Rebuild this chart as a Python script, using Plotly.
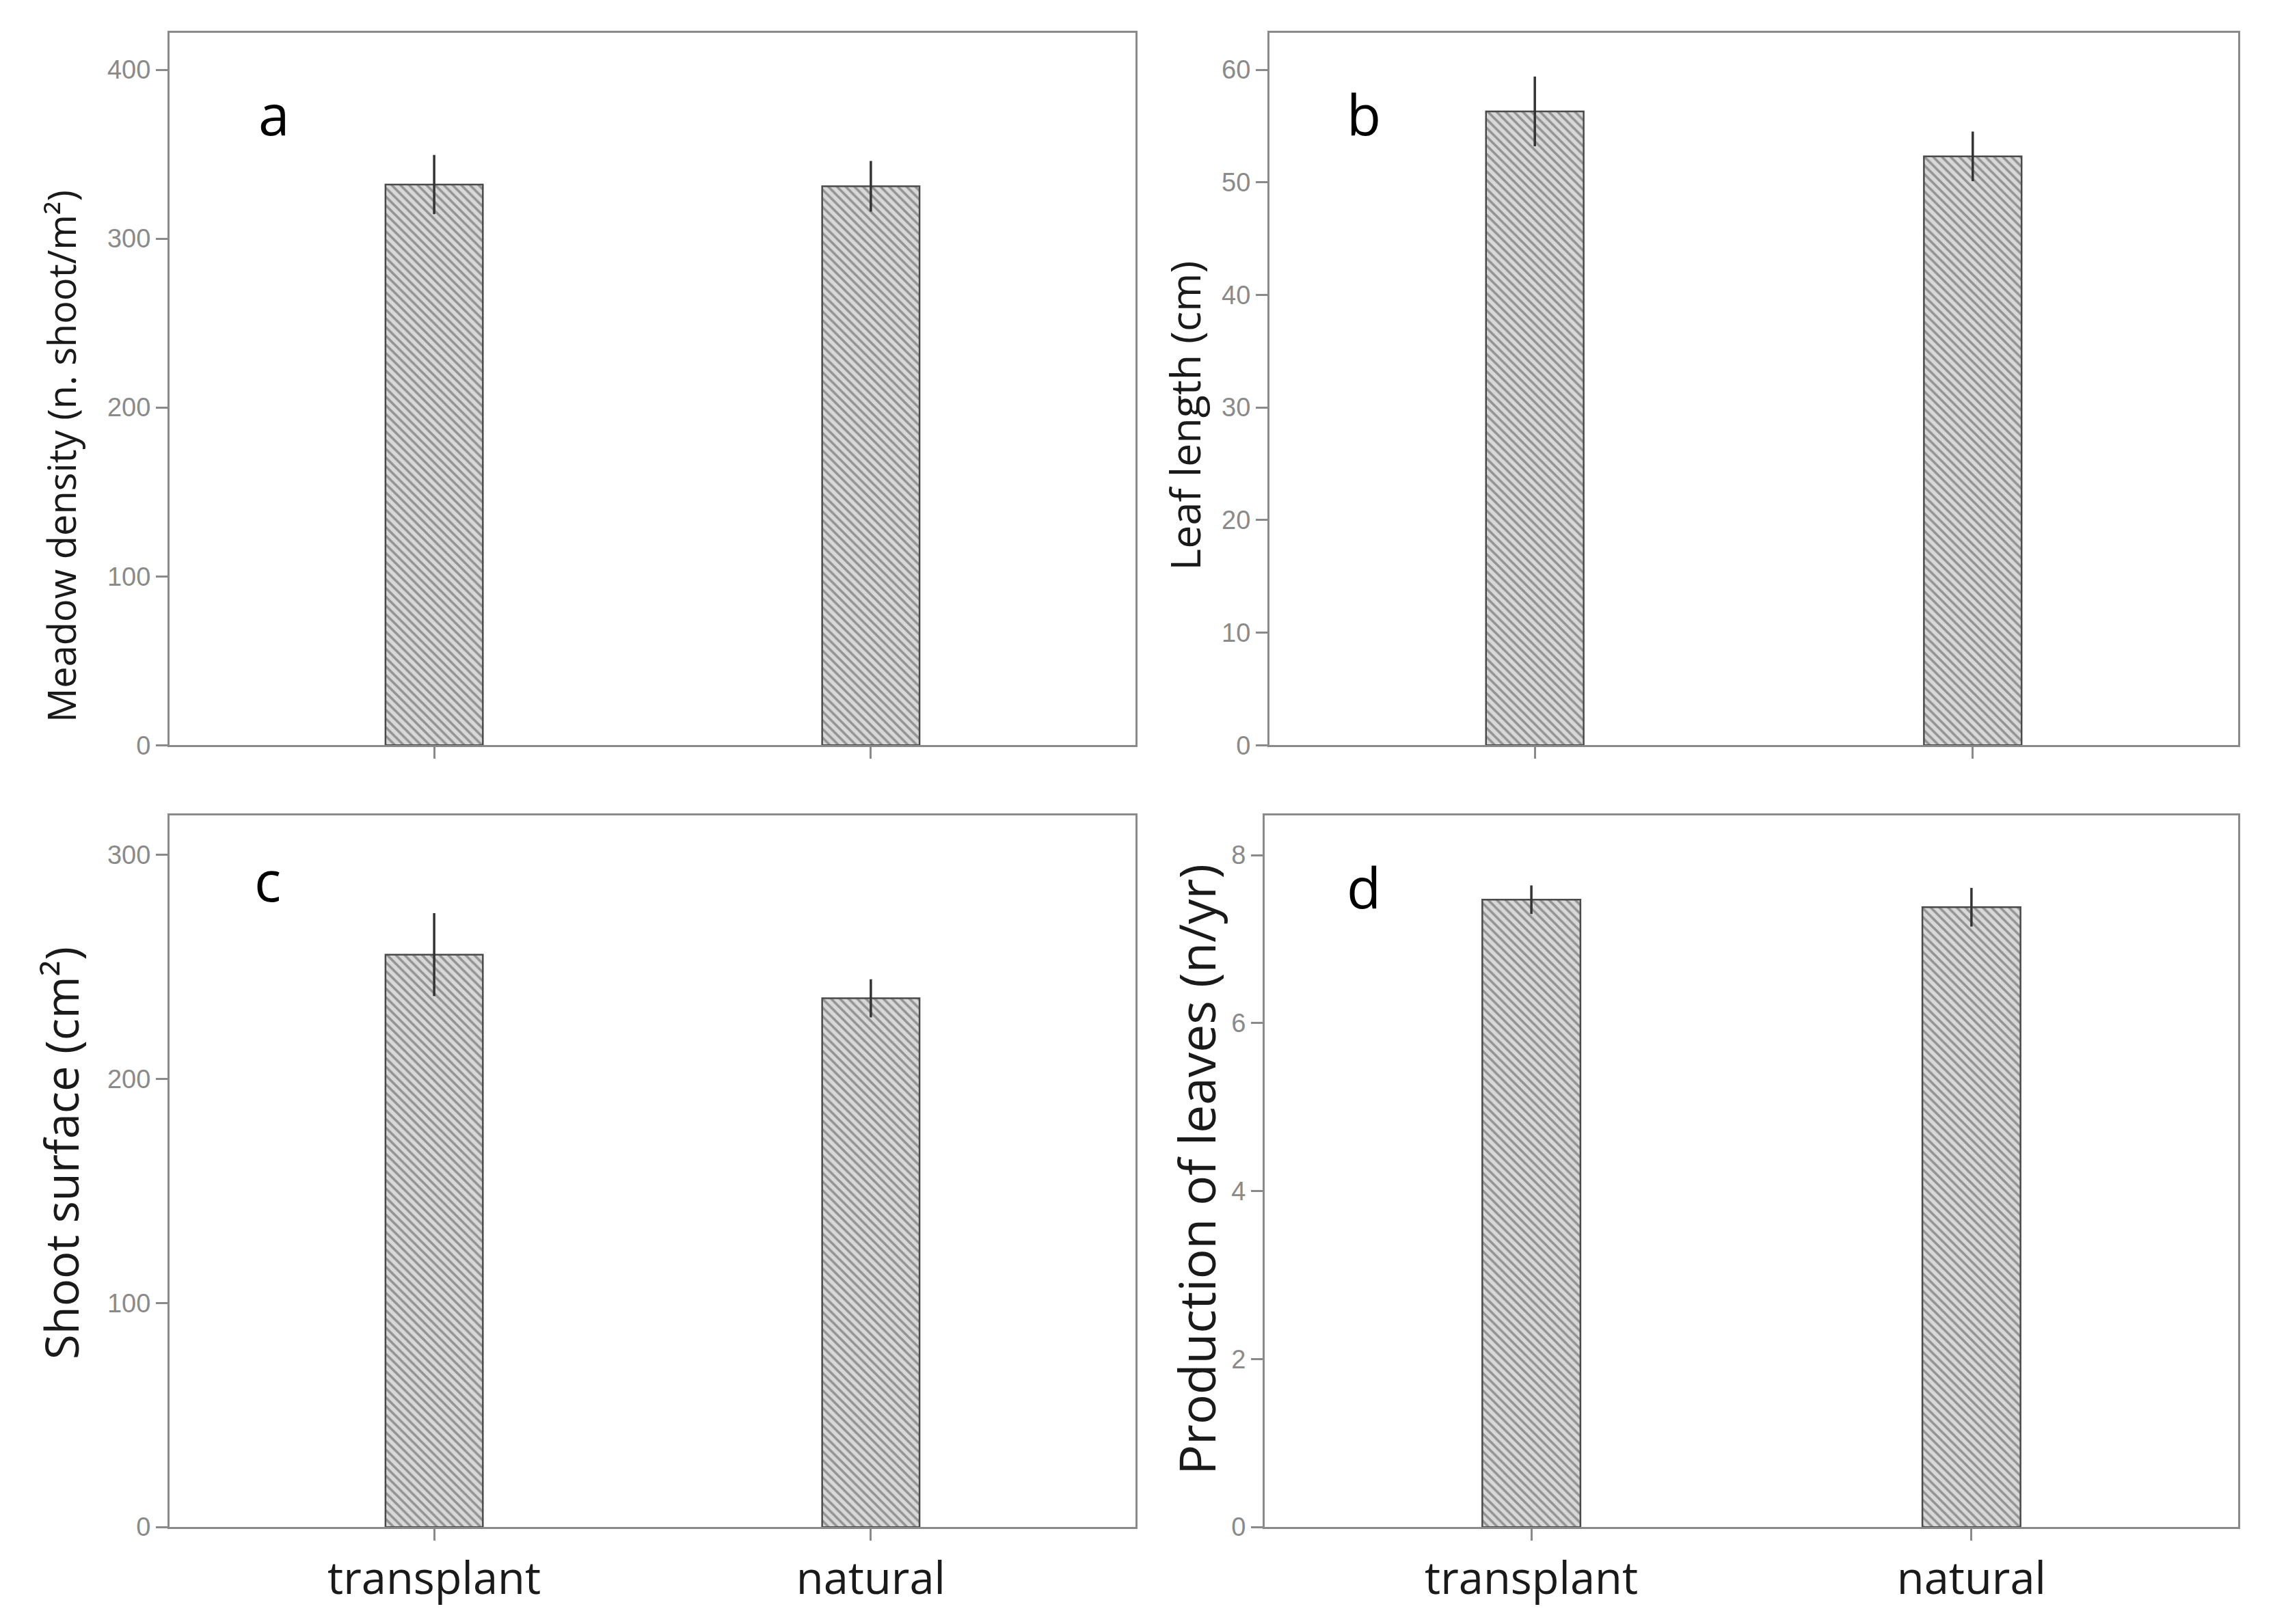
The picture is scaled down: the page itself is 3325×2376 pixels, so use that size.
import plotly.graph_objects as go

categories = ["transplant", "natural"]

density_mean = [332, 331]
density_err = [17.5, 15]

leaf_len_mean = [56.3, 52.3]
leaf_len_err = [3.1, 2.2]

shoot_surf_mean = [255.5, 236.0]
shoot_surf_err = [18.5, 8.5]

leaf_prod_mean = [7.47, 7.38]
leaf_prod_err = [0.17, 0.23]

panels = [
    dict(mean=density_mean, err=density_err, title="Meadow density (n. shoot/m²)",
         yrange=[0, 422], tickvals=[0, 100, 200, 300, 400], letter="a"),
    dict(mean=leaf_len_mean, err=leaf_len_err, title="Leaf length (cm)",
         yrange=[0, 63.3], tickvals=[0, 10, 20, 30, 40, 50, 60], letter="b"),
    dict(mean=shoot_surf_mean, err=shoot_surf_err, title="Shoot surface (cm²)",
         yrange=[0, 317.5], tickvals=[0, 100, 200, 300], letter="c"),
    dict(mean=leaf_prod_mean, err=leaf_prod_err, title="Production of leaves (n/yr)",
         yrange=[0, 8.47], tickvals=[0, 2, 4, 6, 8], letter="d"),
]

W, H = 3325, 2376
# plot-area boxes in pixels (left, right, top, bottom)
boxes = [
    (240, 1653, 40, 1092),
    (1849, 3266, 40, 1092),
    (240, 1653, 1196, 2246),
    (1842, 3266, 1196, 2246),
]
letter_pos = [(393, 159), (1987, 159), (383, 1290), (1987, 1300)]
title_pos = [(81, 666, 56), (1725, 606, 61), (81, 1694, 67), (1742, 1718, 73)]

fig = go.Figure()
axis_gray = "#8a8a8a"
tick_font = dict(family="Liberation Sans Narrow, Liberation Sans, Arial", size=38, color="#8a8a8a")

for i, p in enumerate(panels):
    n = i + 1
    xa = "x" if n == 1 else f"x{n}"
    ya = "y" if n == 1 else f"y{n}"
    fig.add_trace(go.Bar(
        x=categories, y=p["mean"], width=0.223,
        xaxis=xa, yaxis=ya,
        marker=dict(
            color="#cfcfcf",
            line=dict(color="#4a4a4a", width=2.5),
            pattern=dict(shape="\\", fgcolor="#4d4d4d", bgcolor="#d8d8d8", size=9, solidity=0.4),
        ),
        error_y=dict(type="data", array=p["err"], visible=True, color="#333333", thickness=3.5, width=0),
        showlegend=False,
    ))
    l, r, t, b = boxes[i]
    xdom = [l / W, r / W]
    ydom = [1 - b / H, 1 - t / H]
    bottom_row = i >= 2
    fig.layout[("xaxis" if n == 1 else f"xaxis{n}")] = dict(
        domain=xdom, anchor=ya, type="category", range=[-0.606, 1.606],
        showline=True, linecolor=axis_gray, linewidth=3, mirror=True,
        ticks="outside", ticklen=17, tickwidth=3, tickcolor=axis_gray,
        showticklabels=bottom_row, showgrid=False, zeroline=False,
        tickfont=dict(family="Open Sans", size=65, color="#1a1a1a"),
    )
    fig.layout[("yaxis" if n == 1 else f"yaxis{n}")] = dict(
        domain=ydom, anchor=xa, range=p["yrange"], tickvals=p["tickvals"],
        showline=True, linecolor=axis_gray, linewidth=3, mirror=True,
        ticks="outside", ticklen=17, tickwidth=3, tickcolor=axis_gray,
        showgrid=False, zeroline=False, tickfont=tick_font,
    )
    tx, ty, ts = title_pos[i]
    fig.add_annotation(x=tx / W, y=1 - ty / H, xref="paper", yref="paper",
                       text=p["title"], showarrow=False, textangle=-90,
                       xanchor="center", yanchor="middle",
                       font=dict(family="Open Sans", size=ts, color="#1a1a1a"))
    lx, ly = letter_pos[i]
    fig.add_annotation(x=lx / W, y=1 - ly / H, xref="paper", yref="paper",
                       text=p["letter"], showarrow=False,
                       xanchor="center", yanchor="middle",
                       font=dict(family="Open Sans", size=82, color="#000000"))

fig.update_layout(
    width=W, height=H, margin=dict(l=0, r=0, t=0, b=0),
    paper_bgcolor="white", plot_bgcolor="white",
)
fig.write_html("out.html")
